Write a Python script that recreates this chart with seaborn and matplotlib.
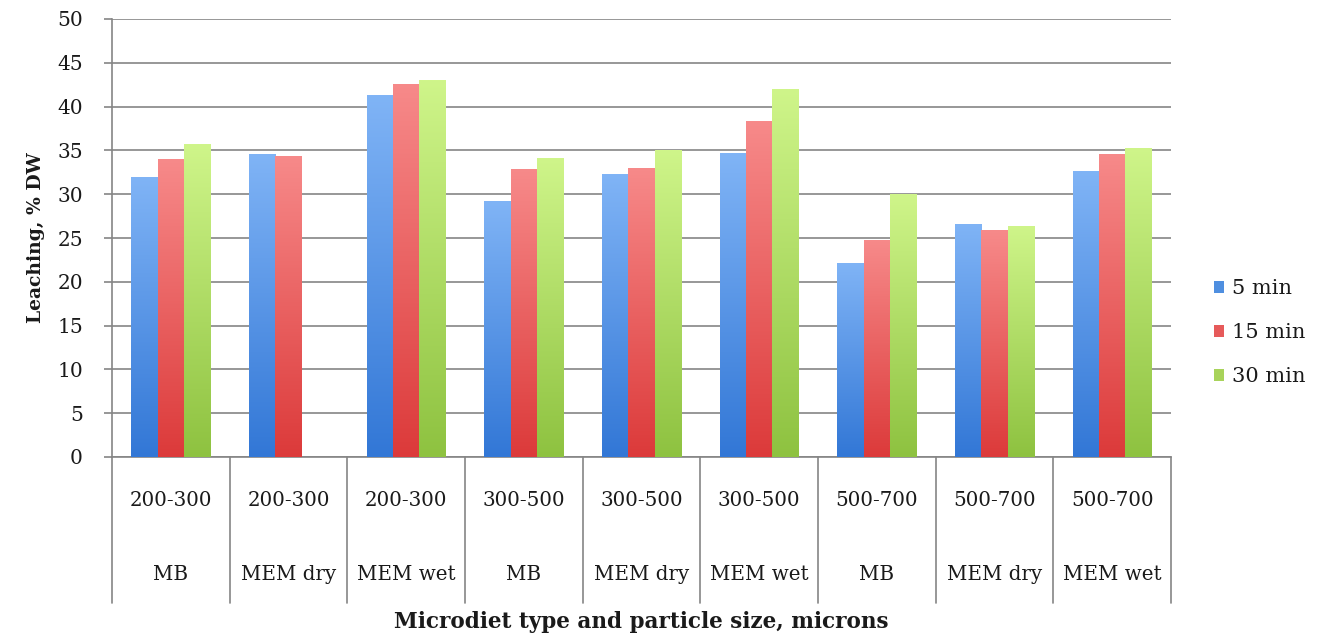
import numpy as np
import pandas as pd
import matplotlib
matplotlib.use("Agg")
import matplotlib.pyplot as plt
import matplotlib.transforms as mtransforms
from matplotlib.colors import to_rgb
from matplotlib.patches import Patch
import seaborn as sns

# Particle size range and microdiet type for each group
sizes = ["200-300", "200-300", "200-300", "300-500", "300-500", "300-500",
         "500-700", "500-700", "500-700"]
diet_types = ["MB", "MEM dry", "MEM wet", "MB", "MEM dry", "MEM wet",
              "MB", "MEM dry", "MEM wet"]
times = ["5 min", "15 min", "30 min"]

# Leaching (% dry weight) after each immersion time
leach_5 = [32.0, 34.6, 41.3, 29.2, 32.3, 34.7, 22.2, 26.6, 32.6]
leach_15 = [34.0, 34.4, 42.6, 32.9, 33.0, 38.3, 24.8, 25.9, 34.6]
leach_30 = [35.7, np.nan, 43.0, 34.1, 35.0, 42.0, 30.0, 26.4, 35.3]

y_ticks = [0, 5, 10, 15, 20, 25, 30, 35, 40, 45, 50]

# Bar shading: light at the top, deeper at the base
top_colors = ["#80b4f6", "#f78a8a", "#cff58a"]
base_colors = ["#3277d6", "#dc3a3a", "#8ec240"]
legend_colors = ["#4f8fe0", "#e65a5a", "#a8d35a"]

groups = [f"{s}\n{t}" for s, t in zip(sizes, diet_types)]
df = pd.DataFrame({
    "group": groups * 3,
    "time": np.repeat(times, len(groups)),
    "leaching": leach_5 + leach_15 + leach_30,
})

sns.set_theme(style="white")
plt.rcParams["font.family"] = ["DejaVu Serif"]
plt.rcParams["text.color"] = "#1a1a1a"

fig = plt.figure(figsize=(13.32, 6.41), dpi=100)
ax = fig.add_axes([112 / 1332, 1 - 457 / 641, (1171 - 112) / 1332, (457 - 19) / 641])

sns.barplot(data=df, x="group", y="leaching", hue="time", hue_order=times,
            order=groups, palette=legend_colors, width=0.67, saturation=1,
            legend=False, ax=ax, zorder=3)

ax.set_ylim(0, 50)
ax.set_xlim(-0.5, len(groups) - 0.5)
xlim, ylim = ax.get_xlim(), ax.get_ylim()

# Vertical gradient fill for each bar, clipped to the bar shape
n = len(groups)
for k, patch in enumerate(ax.patches):
    h = patch.get_height()
    if not np.isfinite(h) or h <= 0:
        continue
    hue_idx = k // n
    c_top = np.array(to_rgb(top_colors[hue_idx]))
    c_bot = np.array(to_rgb(base_colors[hue_idx]))
    t = np.linspace(0, 1, 256)[:, None]
    grad = (c_top * (1 - t) + c_bot * t)[:, None, :]
    x0 = patch.get_x()
    w = patch.get_width()
    im = ax.imshow(grad, extent=(x0, x0 + w, 0, h), aspect="auto",
                   origin="upper", zorder=3, interpolation="bilinear")
    im.set_clip_path(patch)
    patch.set_facecolor("none")
    patch.set_edgecolor("none")

ax.set_xlim(xlim)
ax.set_ylim(ylim)

# Gridlines and axes
ax.set_yticks(y_ticks)
ax.yaxis.grid(True, color="#858585", linewidth=1.2, zorder=0)
ax.set_axisbelow(True)
for side in ["top", "right"]:
    ax.spines[side].set_visible(False)
for side in ["left", "bottom"]:
    ax.spines[side].set_color("#858585")
    ax.spines[side].set_linewidth(1.2)
ax.tick_params(axis="y", which="major", direction="out", length=6,
               width=1.2, color="#858585", pad=15, labelsize=14.5,
               labelcolor="#1a1a1a", left=True)
ax.tick_params(axis="x", bottom=False, labelbottom=False)
ax.set_xlabel("")
ax.set_ylabel("Leaching, % DW", fontsize=13.5, fontweight="bold",
              color="#1a1a1a", labelpad=9)

# Two-row category table under the axis
trans = mtransforms.blended_transform_factory(ax.transData, ax.transAxes)
table_bottom = -(603 - 457) / 438
for i in range(n + 1):
    ax.plot([i - 0.5, i - 0.5], [0, table_bottom], transform=trans,
            color="#858585", linewidth=1.2, clip_on=False, zorder=1)
row1_y = -(500 - 457) / 438
row2_y = -(575 - 457) / 438
for i, (s, t) in enumerate(zip(sizes, diet_types)):
    ax.text(i, row1_y, s, transform=trans, ha="center", va="center",
            fontsize=14.3, color="#1a1a1a")
    ax.text(i, row2_y, t, transform=trans, ha="center", va="center",
            fontsize=14.3, color="#1a1a1a")

fig.text((112 + 1171) / 2 / 1332, 1 - 622 / 641,
         "Microdiet type and particle size, microns",
         ha="center", va="center", fontsize=15.5, fontweight="bold",
         color="#1a1a1a")

handles = [Patch(facecolor=c, edgecolor="none") for c in legend_colors]
fig.legend(handles, times, loc="center left",
           bbox_to_anchor=(1214 / 1332, 1 - 333 / 641), frameon=False,
           fontsize=15, handlelength=0.5, handleheight=0.5,
           handletextpad=0.35, labelspacing=1.2, borderpad=0,
           borderaxespad=0)

fig.savefig("out.png", dpi=100, facecolor="white")
